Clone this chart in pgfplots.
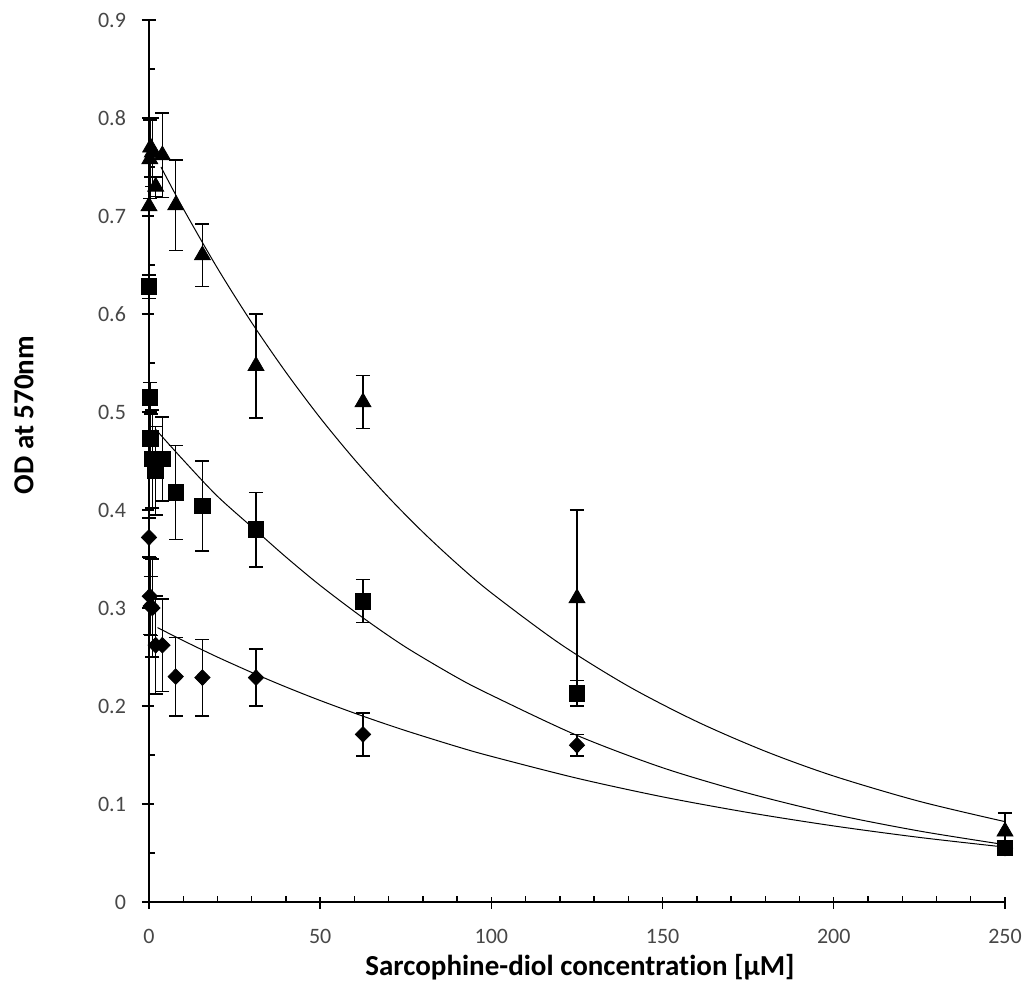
\documentclass[border=0pt]{standalone}
\usepackage{pgfplots}
\pgfplotsset{compat=1.18}
\usepackage{fontspec}
\setmainfont{Carlito}[Ligatures=NoCommon]
\pgfplotstableread{
x y e
0 0.710 0.19
0.24 0.758 0.040
0.49 0.770 0.030
0.98 0.765 0.035
1.95 0.730 0.010
3.9 0.762 0.043
7.8 0.711 0.046
15.6 0.660 0.032
31.25 0.547 0.053
62.5 0.510 0.027
125 0.310 0.090
250 0.072 0.019
}\tri
\pgfplotstableread{
x y e
0 0.628 0.012
0.24 0.515 0.015
0.49 0.473 0.025
0.98 0.452 0.050
1.95 0.440 0.045
3.9 0.452 0.043
7.8 0.418 0.048
15.6 0.404 0.046
31.25 0.380 0.038
62.5 0.307 0.022
125 0.213 0.013
250 0.055 0.005
}\sq
\pgfplotstableread{
x y e
0 0.372 0.020
0.24 0.312 0.039
0.49 0.302 0.030
0.98 0.300 0.050
1.95 0.262 0.050
3.9 0.262 0.047
7.8 0.230 0.040
15.6 0.229 0.039
31.25 0.229 0.029
62.5 0.171 0.022
125 0.160 0.011
250 0.055 0.005
}\dia
\begin{document}
\begin{tikzpicture}
\useasboundingbox (-74.5pt,-49pt) rectangle (443pt,451pt);
\begin{axis}[
  at={(0pt,0pt)}, anchor=south west,
  scale only axis, width=428pt, height=441pt,
  xmin=0, xmax=250, ymin=0, ymax=0.9,
  clip=false,
  axis lines=left, axis line style={-, line width=0.9pt},
  xtick={0,50,...,250}, ytick={0,0.1,...,0.9},
  minor x tick num=4, minor y tick num=1,
  tick align=inside, major tick length=6pt, minor tick length=3pt,
  major x tick style={yshift=-3.5pt}, major y tick style={xshift=-3.5pt},
  tick style={black, line width=0.7pt},
  /pgf/number format/assume math mode=true,
  yticklabel style={/pgf/number format/fixed, /pgf/number format/precision=1, xshift=-8pt},
  xticklabel style={yshift=-10pt},
  ticklabel style={font=\fontsize{11}{13}\selectfont, text=black!72},
  every axis x label/.style={at={(axis description cs:0.5035,0)}, yshift=-32.5pt, anchor=center},
  every axis y label/.style={at={(axis description cs:0,0.552)}, xshift=-62.5pt, rotate=90, anchor=center},
  label style={font=\fontsize{14.5}{17}\selectfont\bfseries},
  xlabel={Sarcophine-diol concentration [µM]},
  ylabel={OD at 570nm},
  error bars/error bar style={black, line width=0.75pt},
  error bars/error mark options={rotate=90, mark size=3.5pt, line width=0.75pt},
]
% fitted curves
\addplot[black, line width=0.5pt, smooth] coordinates {
(3.5,0.750) (10,0.7075) (20,0.6467) (30,0.5912) (40,0.5405) (50,0.4940) (60,0.4516) (70,0.4128) (80,0.3774) (90,0.3450) (100,0.3154) (120,0.2636) (140,0.2202) (160,0.1841) (180,0.1538) (200,0.1285) (225,0.1027) (250,0.082)};
\addplot[black, line width=0.5pt, smooth] coordinates {
(1.75,0.483) (10,0.451) (20,0.414) (31.25,0.379) (40,0.352) (50,0.323) (62.5,0.290) (75,0.260) (90,0.229) (100,0.211) (125,0.170) (150,0.137) (175,0.111) (200,0.0895) (225,0.0724) (250,0.0585)};
\addplot[black, line width=0.5pt, smooth] coordinates {
(2.5,0.280) (10,0.2667) (20,0.2499) (31.25,0.2323) (40,0.2194) (50,0.2056) (62.5,0.1896) (75,0.1748) (90,0.1585) (100,0.1486) (125,0.1263) (150,0.1073) (175,0.0913) (200,0.0776) (225,0.0659) (250,0.0560)};
% data
\addplot[only marks, mark=diamond*, mark size=3.9pt, mark options={fill=black, draw=black, xscale=1.3},
  error bars/.cd, y dir=both, y explicit]
  table[x=x, y=y, y error=e]{\dia};
\addplot[only marks, mark=square*, mark size=3.9pt, mark options={fill=black, draw=black},
  error bars/.cd, y dir=both, y explicit]
  table[x=x, y=y, y error=e]{\sq};
\addplot[only marks, mark=triangle*, mark size=4.6pt, mark options={fill=black, draw=black},
  error bars/.cd, y dir=both, y explicit]
  table[x=x, y=y, y error=e]{\tri};
\end{axis}
\end{tikzpicture}
\end{document}
